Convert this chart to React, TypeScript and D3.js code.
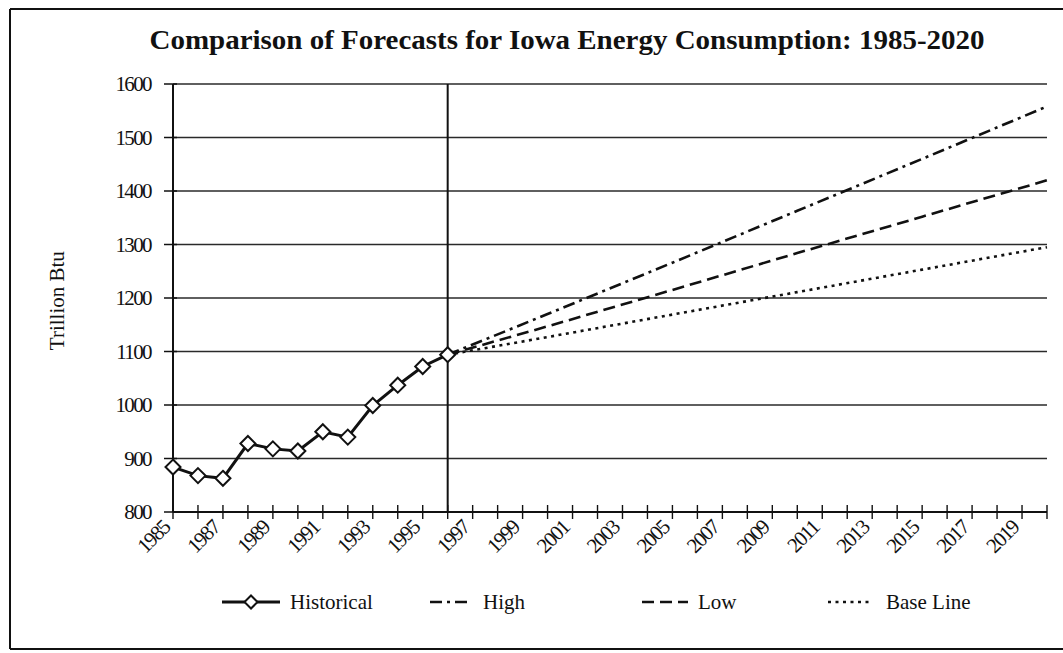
import React from "react";
import * as d3 from "d3";

const histYears = [1985, 1986, 1987, 1988, 1989, 1990, 1991, 1992, 1993, 1994, 1995, 1996];
const histValues = [884, 868, 863, 928, 918, 914, 950, 940, 999, 1037, 1072, 1094];

const fcYears = [1996, 2000, 2005, 2010, 2015, 2020];
const highValues = [1094, 1170, 1266, 1363, 1460, 1558];
const lowValues = [1094, 1147, 1215, 1284, 1352, 1420];
const baseValues = [1094, 1127, 1169, 1211, 1253, 1295];

const yTicks = [800, 900, 1000, 1100, 1200, 1300, 1400, 1500, 1600];
const xLabelYears = d3.range(1985, 2020, 2);
const allYears = d3.range(1985, 2021);

const title = "Comparison of Forecasts for Iowa Energy Consumption: 1985-2020";
const yTitle = "Trillion Btu";
const legendLabels = ["Historical", "High", "Low", "Base Line"];

const FONT = "'Liberation Serif', 'Times New Roman', serif";

export default function App() {
  const W = 1063, H = 653;
  const x = d3.scaleLinear().domain([1985, 2020]).range([173, 1047]);
  const y = d3.scaleLinear().domain([800, 1600]).range([512, 84]);
  const line = d3.line<[number, number]>().x(d => x(d[0])).y(d => y(d[1]));
  const histPts: [number, number][] = histYears.map((yr, i) => [yr, histValues[i]]);
  const mk = (vals: number[]) => fcYears.map((yr, i) => [yr, vals[i]] as [number, number]);
  const styles = {
    high: "12 5 3 5",
    low: "12 6",
    base: "3 4.5",
  };
  const diamond = (cx: number, cy: number, r: number) =>
    `M${cx},${cy - r}L${cx + r},${cy}L${cx},${cy + r}L${cx - r},${cy}Z`;

  const legendY = 602;
  const legend = [
    { x0: 222, x1: 280, label: legendLabels[0], dash: null, marker: true, tx: 290 },
    { x0: 430, x1: 472, label: legendLabels[1], dash: styles.high, marker: false, tx: 483 },
    { x0: 642, x1: 688, label: legendLabels[2], dash: styles.low, marker: false, tx: 698 },
    { x0: 828, x1: 872, label: legendLabels[3], dash: styles.base, marker: false, tx: 886 },
  ];

  return (
    <svg width={W} height={H} style={{ display: "block", position: "absolute", left: 0, top: 0, background: "#fff" }}>
      <rect x={0} y={0} width={W} height={H} fill="#fff" />
      {/* frame */}
      <line x1={10} y1={9} x2={1063} y2={9} stroke="#111" strokeWidth={2} />
      <line x1={10} y1={9} x2={10} y2={649} stroke="#111" strokeWidth={2} />
      <line x1={10} y1={649} x2={1063} y2={649} stroke="#111" strokeWidth={2} />

      <text x={567} y={49} textAnchor="middle" fontFamily={FONT} fontWeight="bold" fontSize={27}
        textLength={835} lengthAdjust="spacingAndGlyphs" fill="#111">{title}</text>

      {/* grid */}
      {yTicks.slice(1).map(t => (
        <line key={t} x1={x(1985)} x2={x(2020)} y1={y(t)} y2={y(t)} stroke="#2a2a2a" strokeWidth={1.5} />
      ))}
      {/* y axis */}
      <line x1={x(1985)} x2={x(1985)} y1={y(1600)} y2={y(800)} stroke="#111" strokeWidth={2} />
      {yTicks.map(t => (
        <g key={t}>
          <line x1={x(1985) - 9} x2={x(1985) + 4} y1={y(t)} y2={y(t)} stroke="#111" strokeWidth={1.5} />
          <text x={151} y={y(t) + 7} textAnchor="end" fontFamily={FONT} fontSize={21} letterSpacing={-1.6} fill="#111">{t}</text>
        </g>
      ))}
      <text transform={`translate(64,${y(1195)}) rotate(-90)`} textAnchor="middle" fontFamily={FONT} fontSize={21} fill="#111">{yTitle}</text>

      {/* x axis */}
      <line x1={x(1985)} x2={x(2020)} y1={y(800)} y2={y(800)} stroke="#111" strokeWidth={2} />
      {allYears.map(yr => (
        <line key={yr} x1={x(yr)} x2={x(yr)} y1={y(800) - 7} y2={y(800) + 7} stroke="#111" strokeWidth={1.4} />
      ))}
      {xLabelYears.map(yr => (
        <text key={yr} transform={`translate(${x(yr) - 2},${y(800) + 17}) rotate(-45)`} textAnchor="end"
          fontFamily={FONT} fontSize={21} letterSpacing={-1.6} fill="#111">{yr}</text>
      ))}
      {/* separator */}
      <line x1={x(1996)} x2={x(1996)} y1={y(1600)} y2={y(800)} stroke="#111" strokeWidth={2} />

      {/* forecasts */}
      <path d={line(mk(highValues)) || ""} fill="none" stroke="#111" strokeWidth={2.6} strokeDasharray={styles.high} />
      <path d={line(mk(lowValues)) || ""} fill="none" stroke="#111" strokeWidth={2.6} strokeDasharray={styles.low} />
      <path d={line(mk(baseValues)) || ""} fill="none" stroke="#111" strokeWidth={2.6} strokeDasharray={styles.base} />

      {/* historical */}
      <path d={line(histPts) || ""} fill="none" stroke="#111" strokeWidth={3} />
      {histPts.map(([yr, v]) => (
        <path key={yr} d={diamond(x(yr), y(v), 7.5)} fill="#fff" stroke="#111" strokeWidth={2} />
      ))}

      {/* legend */}
      {legend.map(l => (
        <g key={l.label}>
          <line x1={l.x0} x2={l.x1} y1={legendY} y2={legendY} stroke="#111" strokeWidth={l.marker ? 3 : 2.4}
            strokeDasharray={l.dash || undefined} />
          {l.marker && <path d={diamond((l.x0 + l.x1) / 2, legendY, 6.5)} fill="#fff" stroke="#111" strokeWidth={2} />}
          <text x={l.tx} y={legendY + 7} fontFamily={FONT} fontSize={21} fill="#111">{l.label}</text>
        </g>
      ))}
    </svg>
  );
}
